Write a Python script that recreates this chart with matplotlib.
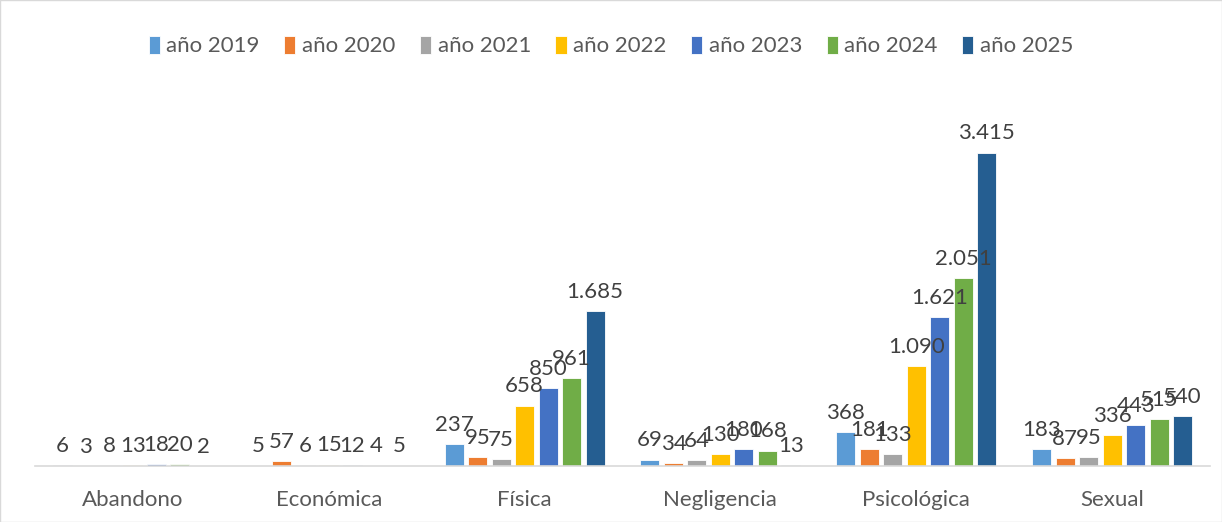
import numpy as np
import matplotlib.pyplot as plt
from matplotlib.patches import Rectangle

categories = ["Abandono", "Económica", "Física", "Negligencia", "Psicológica", "Sexual"]
years = ["año 2019", "año 2020", "año 2021", "año 2022", "año 2023", "año 2024", "año 2025"]

v2019 = [6, 5, 237, 69, 368, 183]
v2020 = [3, 57, 95, 34, 181, 87]
v2021 = [8, 6, 75, 64, 133, 95]
v2022 = [13, 15, 658, 130, 1090, 336]
v2023 = [18, 12, 850, 180, 1621, 443]
v2024 = [20, 4, 961, 168, 2051, 515]
v2025 = [2, 5, 1685, 13, 3415, 540]

series = [v2019, v2020, v2021, v2022, v2023, v2024, v2025]
colors = ["#5B9BD5", "#ED7D31", "#A5A5A5", "#FFC000", "#4472C4", "#70AD47", "#255E91"]


def fmt(v):
    # thousands separator with a dot, like the original
    return f"{v:,}".replace(",", ".")


def main():
    plt.rcParams['font.family'] = ['Lato', 'DejaVu Sans']

    fig = plt.figure(figsize=(12.22, 5.22), dpi=100)
    ax = fig.add_axes([35 / 1222, 1 - 466 / 522, 1175 / 1222, (466 - 99) / 522])

    x = np.arange(len(categories))
    slot = 0.12
    width = 0.097

    for i, (vals, col, name) in enumerate(zip(series, colors, years)):
        pos = x + (i - 3) * slot
        bars = ax.bar(pos, vals, width=width, color=col, label=name,
                      edgecolor="white", linewidth=0.6)
        for b, v in zip(bars, vals):
            ax.text(b.get_x() + b.get_width() / 2, v + 100, fmt(v),
                    ha="center", va="bottom", fontsize=16, color="#404040")

    ax.set_xlim(-0.5, 5.5)
    ax.set_ylim(0, 4000)
    ax.set_yticks([])
    ax.set_xticks(x)
    ax.set_xticklabels(categories, fontsize=16, color="#595959")
    ax.tick_params(axis="x", length=0, pad=17)
    for s in ["top", "left", "right"]:
        ax.spines[s].set_visible(False)
    ax.spines["bottom"].set_color("#D9D9D9")
    ax.spines["bottom"].set_linewidth(1.2)

    fig.legend(loc="center", bbox_to_anchor=(0.5, 1 - 46 / 522), ncol=7,
               frameon=False, fontsize=16, handlelength=0.5, handleheight=0.9,
               handletextpad=0.3, columnspacing=1.1, labelcolor="#595959")

    fig.patches.append(Rectangle((0, 0), 1, 1, transform=fig.transFigure,
                                 fill=False, edgecolor="#D9D9D9", linewidth=1))

    fig.savefig("out.png", dpi=100)


if __name__ == "__main__":
    main()
